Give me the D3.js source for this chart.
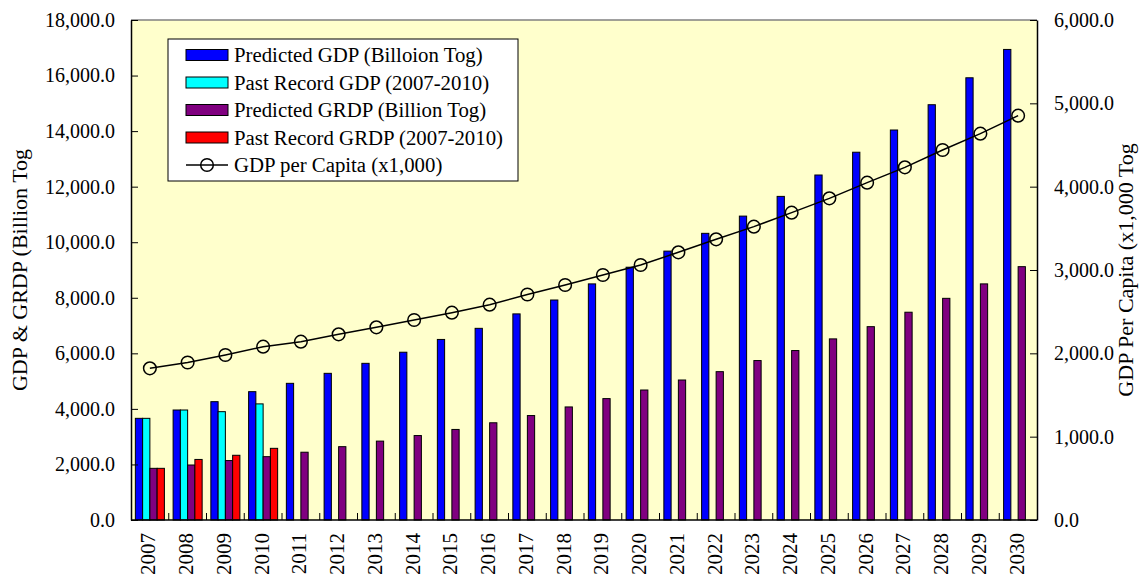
<!DOCTYPE html>
<html>
<head>
<meta charset="utf-8">
<script src="https://cdn.jsdelivr.net/npm/d3@7"></script>
<style>
  html, body { margin: 0; padding: 0; background: #ffffff; }
  svg { display: block; font-family: "Liberation Serif", "Times New Roman", serif; }
</style>
</head>
<body>
<svg id="chart" width="1144" height="579"></svg>
<script>
// Years on the category axis
const years = d3.range(2007, 2031).map(String);

// GDP and GRDP in billion Tog (left axis)
const predictedGDP = [3660, 3960, 4260, 4620, 4920, 5280, 5640, 6040, 6500, 6900, 7420, 7920,
                      8500, 9100, 9680, 10320, 10940, 11650, 12420, 13240, 14040, 14950, 15920, 16940];
const pastGDP = [3660, 3960, 3900, 4180];            // 2007-2010
const predictedGRDP = [1860, 1980, 2140, 2280, 2440, 2640, 2840, 3040, 3260, 3500, 3760, 4070,
                       4370, 4680, 5040, 5340, 5740, 6100, 6520, 6960, 7480, 7980, 8500, 9120];
const pastGRDP = [1860, 2180, 2330, 2580];           // 2007-2010

// GDP per capita in thousand Tog (right axis)
const perCapita = [1820, 1890, 1980, 2080, 2140, 2228, 2312, 2400, 2488, 2584, 2706, 2820,
                   2940, 3060, 3212, 3368, 3520, 3688, 3860, 4048, 4232, 4440, 4636, 4852];

const leftTicks = d3.range(0, 18001, 2000);
const rightTicks = d3.range(0, 6001, 1000);

const seriesKeys = ["predGDP", "pastGDP", "predGRDP", "pastGRDP"];
const seriesNames = {
  predGDP: "Predicted GDP (Billoion Tog)",
  pastGDP: "Past Record GDP (2007-2010)",
  predGRDP: "Predicted GRDP (Billion Tog)",
  pastGRDP: "Past Record GRDP (2007-2010)",
  line: "GDP per Capita (x1,000)"
};
const colors = { predGDP: "#0000ff", pastGDP: "#00ffff", predGRDP: "#800080", pastGRDP: "#ff0000" };

const svg = d3.select("#chart");
const plot = { left: 131, right: 1037, top: 20, bottom: 520 };

const x0 = d3.scaleBand().domain(years).range([plot.left, plot.right]).padding(0);
const x1 = d3.scaleBand().domain(seriesKeys).range([0, x0.bandwidth()])
  .paddingInner(0).paddingOuter(0.6);
const yL = d3.scaleLinear().domain([0, 18000]).range([plot.bottom, plot.top]);
const yR = d3.scaleLinear().domain([0, 6000]).range([plot.bottom, plot.top]);

// plot area background
svg.append("rect")
  .attr("x", plot.left).attr("y", plot.top)
  .attr("width", plot.right - plot.left).attr("height", plot.bottom - plot.top)
  .attr("fill", "#ffffcc");

// gather bar records
const bars = [];
years.forEach((yr, i) => {
  bars.push({ year: yr, key: "predGDP", v: predictedGDP[i] });
  if (i < pastGDP.length) bars.push({ year: yr, key: "pastGDP", v: pastGDP[i] });
  bars.push({ year: yr, key: "predGRDP", v: predictedGRDP[i] });
  if (i < pastGRDP.length) bars.push({ year: yr, key: "pastGRDP", v: pastGRDP[i] });
});

svg.append("g").selectAll("rect").data(bars).join("rect")
  .attr("x", d => x0(d.year) + x1(d.key))
  .attr("y", d => yL(d.v))
  .attr("width", x1.bandwidth())
  .attr("height", d => yL(0) - yL(d.v))
  .attr("fill", d => colors[d.key])
  .attr("stroke", "#000")
  .attr("stroke-width", 1);

// per-capita line with hollow circle markers
const line = d3.line()
  .x((d, i) => x0(years[i]) + x0.bandwidth() / 2)
  .y(d => yR(d));
svg.append("path").datum(perCapita)
  .attr("d", line).attr("fill", "none")
  .attr("stroke", "#000").attr("stroke-width", 1.5);
svg.append("g").selectAll("circle").data(perCapita).join("circle")
  .attr("cx", (d, i) => x0(years[i]) + x0.bandwidth() / 2)
  .attr("cy", d => yR(d))
  .attr("r", 6.3)
  .attr("fill", "none")
  .attr("stroke", "#000").attr("stroke-width", 1.5);

// plot frame
svg.append("line").attr("x1", plot.left).attr("x2", plot.right)
  .attr("y1", plot.top).attr("y2", plot.top)
  .attr("stroke", "#808080").attr("stroke-width", 1.5);

// left axis (ticks point inward)
const gL = svg.append("g").attr("transform", `translate(${plot.left},0)`)
  .call(d3.axisLeft(yL).tickValues(leftTicks).tickSizeInner(-7).tickSizeOuter(0)
    .tickPadding(16).tickFormat(d3.format(",.1f")));
// right axis (ticks point inward)
const gR = svg.append("g").attr("transform", `translate(${plot.right},0)`)
  .call(d3.axisRight(yR).tickValues(rightTicks).tickSizeInner(-7).tickSizeOuter(0)
    .tickPadding(17).tickFormat(d3.format(",.1f")));
[gL, gR].forEach(g => {
  g.select(".domain").attr("stroke", "#000").attr("stroke-width", 1.5);
  g.selectAll(".tick line").attr("stroke", "#000").attr("stroke-width", 1);
  g.selectAll(".tick text").attr("font-size", 20).attr("fill", "#000")
    .attr("font-family", "Liberation Serif, Times New Roman, serif");
});

// bottom axis: ticks at category boundaries, labels rotated
const gB = svg.append("g").attr("transform", `translate(0,${plot.bottom})`);
gB.append("line").attr("x1", plot.left).attr("x2", plot.right)
  .attr("y1", 0).attr("y2", 0).attr("stroke", "#000").attr("stroke-width", 1.5);
gB.selectAll("line.tk").data(years.slice(1)).join("line").attr("class", "tk")
  .attr("x1", d => x0(d)).attr("x2", d => x0(d))
  .attr("y1", 0).attr("y2", -7).attr("stroke", "#000").attr("stroke-width", 1);
gB.selectAll("text").data(years).join("text")
  .attr("transform", d => `translate(${x0(d) + x0.bandwidth() / 2 + 5.5},13) rotate(-90)`)
  .attr("text-anchor", "end")
  .attr("font-size", 21)
  .text(d => d);

// axis titles
svg.append("text")
  .attr("transform", `translate(27,${(plot.top + plot.bottom) / 2}) rotate(-90)`)
  .attr("text-anchor", "middle").attr("font-size", 22)
  .text("GDP & GRDP (Billion Tog");
svg.append("text")
  .attr("transform", `translate(1133,${(plot.top + plot.bottom) / 2}) rotate(-90)`)
  .attr("text-anchor", "middle").attr("font-size", 22)
  .text("GDP Per Capita (x1,000 Tog");

// legend
const lg = svg.append("g").attr("transform", "translate(168,39)");
lg.append("rect").attr("x", 0).attr("y", 0).attr("width", 350).attr("height", 142)
  .attr("fill", "#fff").attr("stroke", "#000").attr("stroke-width", 1);
const legendKeys = seriesKeys.concat(["line"]);
const rowY = i => 16 + i * 27.5;
legendKeys.forEach((k, i) => {
  const row = lg.append("g").attr("transform", `translate(18,${rowY(i)})`);
  if (k === "line") {
    row.append("line").attr("x1", 0).attr("x2", 42).attr("y1", 0).attr("y2", 0)
      .attr("stroke", "#000").attr("stroke-width", 1.5);
    row.append("circle").attr("cx", 21).attr("cy", 0).attr("r", 6.3)
      .attr("fill", "none").attr("stroke", "#000").attr("stroke-width", 1.5);
  } else {
    row.append("rect").attr("x", 0).attr("y", -5.5).attr("width", 42).attr("height", 11)
      .attr("fill", colors[k]).attr("stroke", "#000").attr("stroke-width", 1);
  }
  row.append("text").attr("x", 48).attr("y", 0).attr("dy", "0.35em")
    .attr("font-size", 20.8).text(seriesNames[k]);
});
</script>
</body>
</html>
